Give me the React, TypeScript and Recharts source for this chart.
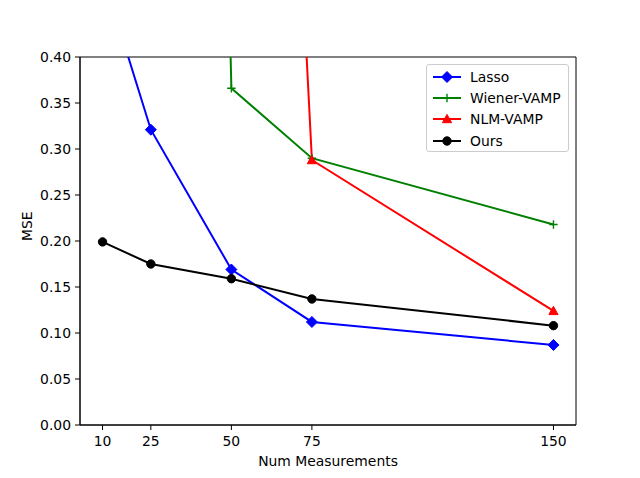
import React from "react";
import {
  LineChart,
  Line,
  XAxis,
  YAxis,
  ReferenceArea,
} from "recharts";

const measurements = [10, 25, 50, 75, 150];
const lasso = [0.49, 0.321, 0.169, 0.112, 0.087];
const wienerVamp = [6.0, 4.0, 0.366, 0.29, 0.218];
const nlmVamp = [4.0, 3.0, 2.0, 0.288, 0.124];
const ours = [0.199, 0.175, 0.159, 0.137, 0.108];

const xTicks = [10, 25, 50, 75, 150];
const yTicks = [0, 0.05, 0.1, 0.15, 0.2, 0.25, 0.3, 0.35, 0.4];

const data = measurements.map((n, i) => ({
  n,
  lasso: lasso[i],
  wiener: wienerVamp[i],
  nlm: nlmVamp[i],
  ours: ours[i],
}));

const FONT = "'DejaVu Sans', sans-serif";

function Marker({ kind, cx, cy, color }: { kind: string; cx: number; cy: number; color: string }) {
  if (kind === "diamond") {
    const r = 5.5;
    return (
      <polygon
        points={`${cx},${cy - r} ${cx + r},${cy} ${cx},${cy + r} ${cx - r},${cy}`}
        fill={color}
        stroke={color}
        strokeWidth={1}
      />
    );
  }
  if (kind === "plus") {
    const r = 4.2;
    return (
      <path
        d={`M${cx - r},${cy} L${cx + r},${cy} M${cx},${cy - r} L${cx},${cy + r}`}
        stroke={color}
        strokeWidth={1.4}
        fill="none"
      />
    );
  }
  if (kind === "triangle") {
    const r = 4.6;
    return (
      <polygon
        points={`${cx},${cy - r} ${cx + r},${cy + r * 0.8} ${cx - r},${cy + r * 0.8}`}
        fill={color}
        stroke={color}
        strokeWidth={1}
      />
    );
  }
  return <circle cx={cx} cy={cy} r={4.2} fill={color} stroke={color} strokeWidth={1} />;
}

const series = [
  { key: "lasso", name: "Lasso", color: "#0000ff", kind: "diamond" },
  { key: "wiener", name: "Wiener-VAMP", color: "#008000", kind: "plus" },
  { key: "nlm", name: "NLM-VAMP", color: "#ff0000", kind: "triangle" },
  { key: "ours", name: "Ours", color: "#000000", kind: "circle" },
];

function LegendBox() {
  return (
    <div
      style={{
        position: "absolute",
        left: 426,
        top: 64,
        width: 143,
        height: 88,
        border: "1px solid #cccccc",
        borderRadius: 3,
        background: "rgba(255,255,255,0.8)",
        fontFamily: FONT,
        fontSize: 13.9,
        color: "#000",
        boxSizing: "border-box",
        paddingTop: 1,
      }}
    >
      {series.map((s) => (
        <div key={s.key} style={{ display: "flex", alignItems: "center", height: 21.3 }}>
          <svg width={38} height={20} style={{ marginLeft: 5 }}>
            <line x1={1} y1={10} x2={29} y2={10} stroke={s.color} strokeWidth={2} />
            <Marker kind={s.kind} cx={15} cy={10} color={s.color} />
          </svg>
          <span>{s.name}</span>
        </div>
      ))}
    </div>
  );
}

export default function App() {
  return (
    <div style={{ position: "relative", width: 640, height: 478, background: "#fff" }}>
      <style>{"body{margin:0}"}</style>
      <LineChart
        width={640}
        height={478}
        data={data}
        margin={{ top: 57, right: 64, bottom: 0, left: 0 }}
      >
        <XAxis
          dataKey="n"
          type="number"
          domain={[3, 157]}
          ticks={xTicks}
          allowDataOverflow
          height={53}
          tickSize={5}
          tickMargin={6}
          axisLine={{ stroke: "#000" }}
          tickLine={{ stroke: "#000" }}
          tick={{ fill: "#000", fontSize: 13.9, fontFamily: FONT }}
          label={{
            value: "Num Measurements",
            position: "insideBottom",
            offset: 12,
            fill: "#000",
            fontSize: 13.9,
            fontFamily: FONT,
          }}
        />
        <YAxis
          type="number"
          domain={[0, 0.4]}
          ticks={yTicks}
          allowDataOverflow
          width={80}
          tickSize={5}
          tickMargin={4}
          tickFormatter={(v: number) => v.toFixed(2)}
          axisLine={{ stroke: "#000" }}
          tickLine={{ stroke: "#000" }}
          tick={{ fill: "#000", fontSize: 13.9, fontFamily: FONT }}
          label={{
            value: "MSE",
            angle: -90,
            position: "insideLeft",
            offset: 27,
            fill: "#000",
            fontSize: 13.9,
            fontFamily: FONT,
          }}
        />
        <ReferenceArea x1={3} x2={157} y1={0} y2={0.4} fill="none" stroke="#000" strokeWidth={1} />
        {series.map((s) => (
          <Line
            key={s.key}
            dataKey={s.key}
            name={s.name}
            stroke={s.color}
            strokeWidth={2}
            isAnimationActive={false}
            dot={(p: any) => (
              <Marker key={`${s.key}-${p.index}`} kind={s.kind} cx={p.cx} cy={p.cy} color={s.color} />
            )}
            activeDot={false}
          />
        ))}
      </LineChart>
      <LegendBox />
    </div>
  );
}
